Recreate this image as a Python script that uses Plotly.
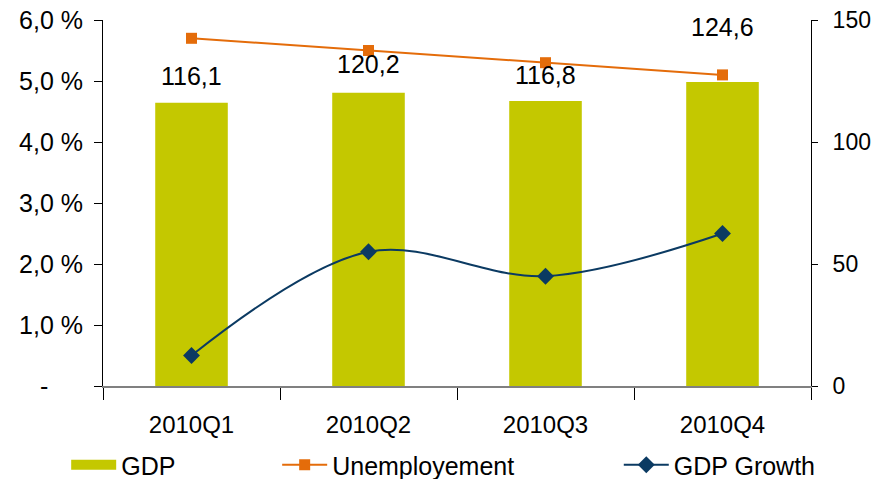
import plotly.graph_objects as go

categories = ["2010Q1", "2010Q2", "2010Q3", "2010Q4"]
gdp = [116.1, 120.2, 116.8, 124.6]
gdp_labels = ["116,1", "120,2", "116,8", "124,6"]
unemployment = [5.7, 5.5, 5.3, 5.1]
gdp_growth = [0.5, 2.2, 1.8, 2.5]
left_tickvals = [0, 1, 2, 3, 4, 5, 6]
left_ticktext = ["-\u00a0\u00a0\u00a0\u00a0\u00a0", "1,0 %", "2,0 %", "3,0 %", "4,0 %", "5,0 %", "6,0 %"]
right_tickvals = [0, 50, 100, 150]

label_shift = [27, 29, 26, 55]

BAR = "#C4C800"
ORANGE = "#E46C0A"
NAVY = "#0B3A62"
FONT = "Liberation Sans, Arial, sans-serif"

fig = go.Figure()
fig.add_trace(go.Bar(
    x=categories, y=gdp, name="GDP", marker=dict(color=BAR, line=dict(width=0)),
    width=0.41, yaxis="y", showlegend=False,
))
# legend entry for GDP (wide block swatch)
fig.add_trace(go.Scatter(
    x=[None], y=[None], name="GDP", mode="lines",
    line=dict(color=BAR, width=18), yaxis="y", legend="legend",
))
fig.add_trace(go.Scatter(
    x=categories, y=unemployment, name="Unemployement", mode="lines+markers",
    line=dict(color=ORANGE, width=2), marker=dict(symbol="square", size=11, color=ORANGE),
    yaxis="y2", legend="legend2",
))
fig.add_trace(go.Scatter(
    x=categories, y=gdp_growth, name="GDP Growth", mode="lines+markers",
    line=dict(color=NAVY, width=2, shape="spline", smoothing=1.0),
    marker=dict(symbol="diamond", size=13, color=NAVY),
    yaxis="y2", legend="legend3",
))

for c, v, t, s in zip(categories, gdp, gdp_labels, label_shift):
    fig.add_annotation(x=c, y=v, yref="y", text=t, showarrow=False, yshift=s,
                       font=dict(family=FONT, size=25, color="#000"))

leg_common = dict(orientation="h", yanchor="middle", y=-0.216, xanchor="left",
                  bgcolor="rgba(0,0,0,0)", font=dict(family=FONT, size=25, color="#000"),
                  itemwidth=45)
fig.update_layout(
    width=876, height=479,
    margin=dict(l=103, r=65, t=20, b=93, autoexpand=False),
    paper_bgcolor="white", plot_bgcolor="white",
    showlegend=True,
    legend=dict(x=-0.052, **leg_common),
    legend2=dict(x=0.246, **leg_common),
    legend3=dict(x=0.7285, **leg_common),
    xaxis=dict(
        type="category", tickson="boundaries", ticks="outside", ticklen=12,
        tickcolor="#000", showline=True, linecolor="#808080", linewidth=1.5,
        showgrid=False, tickfont=dict(family=FONT, size=24, color="#000"),
        ticklabelstandoff=16, range=[-0.5, 3.5],
    ),
    yaxis=dict(
        side="right", range=[0, 150], tickvals=right_tickvals, ticks="outside",
        ticklen=6, tickcolor="#000", showline=True, linecolor="#000", linewidth=1,
        showgrid=False, zeroline=False, tickfont=dict(family=FONT, size=23, color="#000"),
        ticklabelstandoff=10,
    ),
    yaxis2=dict(
        side="left", overlaying="y", range=[0, 6], tickvals=left_tickvals,
        ticktext=left_ticktext, ticks="outside", ticklen=8, tickcolor="#000",
        showline=True, linecolor="#000", linewidth=1, showgrid=False, zeroline=False,
        tickfont=dict(family=FONT, size=25, color="#000"), ticklabelstandoff=6,
    ),
)

fig.write_html("out.html")
